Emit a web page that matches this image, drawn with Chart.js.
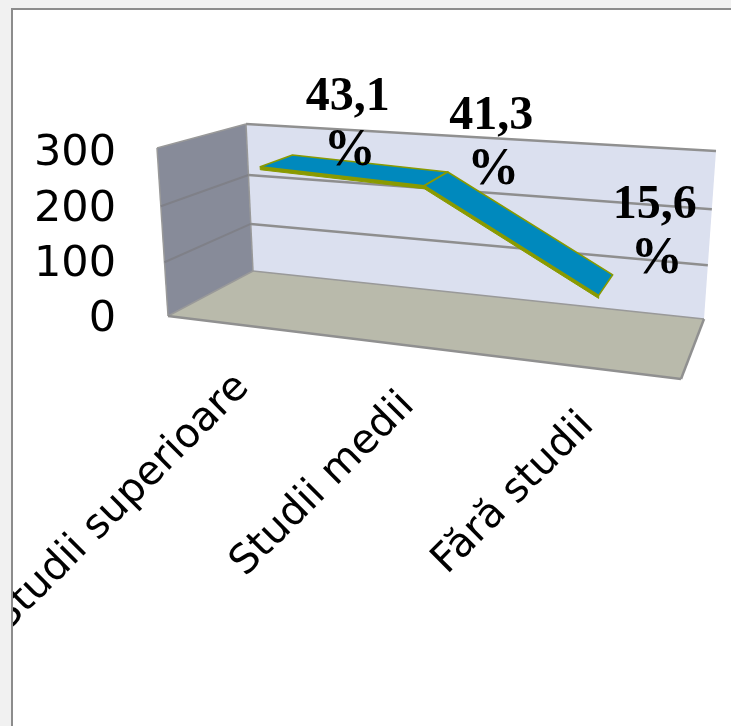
<!DOCTYPE html>
<html>
<head>
<meta charset="utf-8">
<title>Studii</title>
<style>
  html, body { margin: 0; padding: 0; background: #f1f1f1; }
  canvas { display: block; }
</style>
<script src="https://cdn.jsdelivr.net/npm/chart.js@4"></script>
</head>
<body>
<canvas id="chart" width="731" height="726"></canvas>
<script>
const categories = ['Studii superioare', 'Studii medii', 'Fără studii'];
const persons = [265, 254, 96];
const axisMax = 300;
const axisStep = 100;

// Box corners of the 3D plot: F/B front/back, L/R left/right, B/T bottom/top.
const box = {
  FLB: [168, 316], FLT: [157, 148], FRB: [681, 379], FRT: [695, 188],
  BLB: [253, 271], BLT: [246, 124], BRB: [704, 319], BRT: [716, 151]
};
const mix = (a, b, t) => [a[0] + (b[0] - a[0]) * t, a[1] + (b[1] - a[1]) * t];

// Maps axis fractions (u along categories, v along values, d into depth) to the canvas.
function project(u, v, d) {
  const pu = u - 0.135 * u * (1 - u);
  const pv = v / (1 + 0.0625 * (1 - v));
  const front = mix(mix(box.FLB, box.FRB, pu), mix(box.FLT, box.FRT, pu), pv);
  const back = mix(mix(box.BLB, box.BRB, pu), mix(box.BLT, box.BRT, pu), pv);
  return mix(front, back, d);
}

function poly(ctx, pts) {
  ctx.beginPath();
  pts.forEach((p, i) => i ? ctx.lineTo(p[0], p[1]) : ctx.moveTo(p[0], p[1]));
  ctx.closePath();
}

const total = persons.reduce((a, b) => a + b, 0);
const percentText = v => (v / total * 100).toFixed(1).replace('.', ',');

const fractions = (chart, el) => ({
  u: (el.x - chart.scales.x.left) / chart.scales.x.width,
  v: (chart.scales.y.bottom - el.y) / chart.scales.y.height
});

const labelShift = [[71, -63], [55, -62], [49, -79]];
const tickShift = [[-1, 56], [1, 54], [2, 52]];

const plot3d = {
  id: 'plot3d',
  beforeDraw(chart) {
    const c = chart.ctx;
    c.save();
    c.fillStyle = '#f1f1f1';
    c.fillRect(0, 0, 731, 726);
    c.fillStyle = '#ffffff';
    c.fillRect(12, 9, 719, 717);
    c.strokeStyle = '#8c8c8c';
    c.lineWidth = 2;
    c.beginPath();
    c.moveTo(12, 726);
    c.lineTo(12, 9);
    c.lineTo(731, 9);
    c.stroke();
    c.restore();
  },
  beforeDatasetsDraw(chart) {
    const c = chart.ctx;
    const yScale = chart.scales.y;
    c.save();
    // Side wall
    poly(c, [box.FLT, box.BLT, box.BLB, box.FLB]);
    c.fillStyle = '#878b99';
    c.fill();
    // Back wall
    poly(c, [box.BLT, box.BRT, box.BRB, box.BLB]);
    c.fillStyle = '#dbe0ef';
    c.fill();
    // Floor
    poly(c, [box.BLB, box.BRB, box.FRB, box.FLB]);
    c.fillStyle = '#b9baab';
    c.fill();
    // Floor and wall outlines
    c.lineJoin = 'round';
    c.strokeStyle = '#999999';
    c.lineWidth = 1.5;
    [[box.BLB, box.BRB], [box.FLB, box.BLB], [box.FLB, box.FLT], [box.BLB, box.BLT], [box.FLT, box.BLT]]
      .forEach(s => { c.beginPath(); c.moveTo(...s[0]); c.lineTo(...s[1]); c.stroke(); });
    c.strokeStyle = '#909090';
    c.lineWidth = 2.5;
    [[box.FLB, box.FRB], [box.FRB, box.BRB], [box.BLT, box.BRT]]
      .forEach(s => { c.beginPath(); c.moveTo(...s[0]); c.lineTo(...s[1]); c.stroke(); });
    // Gridlines across both walls, taken from the value axis
    yScale.ticks.forEach(t => {
      if (t.value === 0 || t.value === axisMax) return;
      const v = (yScale.bottom - yScale.getPixelForValue(t.value)) / yScale.height;
      const a = project(0, v, 0), b = project(0, v, 1), e = project(1, v, 1);
      c.strokeStyle = '#7f8088';
      c.lineWidth = 2;
      c.beginPath(); c.moveTo(...a); c.lineTo(...b); c.stroke();
      c.strokeStyle = '#8e8e8e';
      c.lineWidth = 2.5;
      c.beginPath(); c.moveTo(...b); c.lineTo(...e); c.stroke();
    });
    c.restore();
  },
  // The line dataset is rendered as a flat ribbon lying in the box depth.
  beforeDatasetDraw(chart, args) {
    const c = chart.ctx;
    const pts = args.meta.data.map(el => fractions(chart, el));
    const dFront = 0.29, dBack = 0.7;
    c.save();
    c.lineJoin = 'round';
    for (let i = 0; i < pts.length - 1; i++) {
      const p = pts[i], q = pts[i + 1];
      const a = project(p.u, p.v, dFront), b = project(q.u, q.v, dFront);
      const e = project(q.u, q.v, dBack), f = project(p.u, p.v, dBack);
      poly(c, [a, b, [b[0], b[1] + 3], [a[0], a[1] + 3]]);
      c.fillStyle = '#8a9a00';
      c.strokeStyle = '#8a9a00';
      c.lineWidth = 1;
      c.fill();
      c.stroke();
      poly(c, [a, b, e, f]);
      c.fillStyle = '#0089bd';
      c.fill();
      c.lineWidth = 1.6;
      c.stroke();
    }
    c.restore();
    return false;
  },
  afterDatasetsDraw(chart) {
    const c = chart.ctx;
    const meta = chart.getDatasetMeta(0);
    c.save();
    c.fillStyle = '#000000';
    c.textAlign = 'center';
    c.textBaseline = 'middle';
    meta.data.forEach((el, i) => {
      const f = fractions(chart, el);
      const m = project(f.u, f.v, 0.5);
      const x = m[0] + labelShift[i][0], y = m[1] + labelShift[i][1];
      c.font = 'bold 48px "Liberation Serif"';
      c.fillText(percentText(persons[i]), x, y);
      c.font = 'bold 52px "Liberation Serif"';
      c.fillText('%', x + 2, y + 54);
    });
    c.restore();
  },
  afterDraw(chart) {
    const c = chart.ctx;
    const xScale = chart.scales.x;
    c.save();
    c.beginPath();
    c.rect(13, 10, 718, 716);
    c.clip();
    c.fillStyle = '#000000';
    c.font = '40.5px "DejaVu Sans"';
    c.textAlign = 'right';
    c.textBaseline = 'middle';
    categories.forEach((name, i) => {
      const u = (xScale.getPixelForTick(i) - xScale.left) / xScale.width;
      const p = project(u, 0, 0);
      c.save();
      c.translate(p[0] + tickShift[i][0], p[1] + tickShift[i][1]);
      c.rotate(-Math.PI / 4);
      c.fillText(name, 0, 0);
      c.restore();
    });
    c.restore();
  }
};

new Chart(document.getElementById('chart'), {
  type: 'line',
  data: {
    labels: categories,
    datasets: [{ data: persons, pointRadius: 0, borderColor: '#8a9a00', backgroundColor: '#0089bd' }]
  },
  options: {
    responsive: false,
    animation: false,
    layout: { padding: { left: 0, top: 154, right: 50, bottom: 406 } },
    plugins: { legend: { display: false }, tooltip: { enabled: false } },
    scales: {
      x: {
        type: 'category',
        offset: true,
        afterFit(scale) { scale.height = 0; },
        grid: { display: false },
        border: { display: false },
        ticks: { display: false }
      },
      y: {
        min: 0,
        max: axisMax,
        afterFit(scale) { scale.width = 168; },
        grid: { display: false, drawTicks: false },
        border: { display: false },
        ticks: {
          stepSize: axisStep,
          autoSkip: false,
          padding: 52,
          color: '#000000',
          font: { family: '"DejaVu Sans"', size: 43 }
        }
      }
    }
  },
  plugins: [plot3d]
});
</script>
</body>
</html>
